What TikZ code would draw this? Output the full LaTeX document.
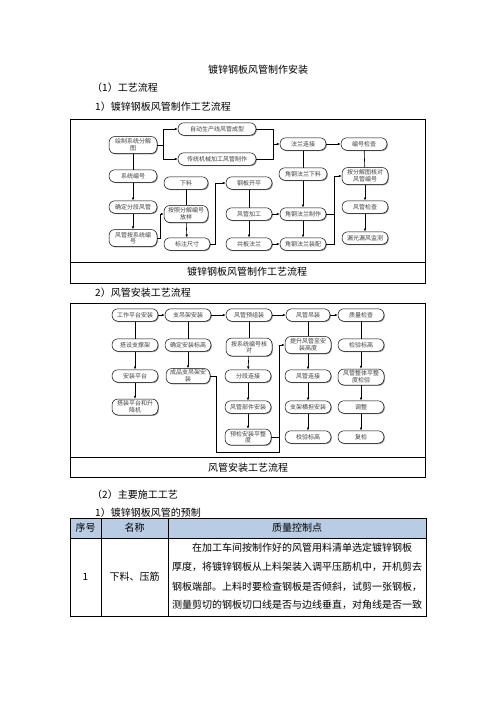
\documentclass[tikz,border=0pt]{standalone}
\usepackage{fontspec}
\setmainfont{Noto Sans CJK SC}
\usepackage{tikz}
\usetikzlibrary{positioning}
\usetikzlibrary{arrows.meta}
\usetikzlibrary{calc,shadows}

\begin{document}
\begin{tikzpicture}[x=1pt,y=-1pt,>={Latex[length=3pt,width=2.6pt]}]

	\tikzstyle{proc}=[rectangle,draw=black,line width=0.5pt,rounded corners=6pt,fill=white,
	drop shadow={shadow xshift=0.8pt,shadow yshift=-0.9pt,fill=black!40,opacity=1},
	minimum width=46pt,minimum height=12.5pt,inner sep=0.5pt,align=center,
	font=\fontsize{6}{6.6}\selectfont,text=black!75]
	\tikzstyle{wide proc}=[proc,minimum width=78pt]
	\tikzstyle{tall proc}=[proc,minimum height=17pt]
	\tikzstyle{link}=[line width=0.6pt,black]
	\tikzstyle{frame}=[line width=0.8pt,black]
	\tikzstyle{body}=[font=\fontsize{10}{12}\selectfont,inner sep=0pt]

	\useasboundingbox (0,0) rectangle (496,702);
	\fill[white] (0,0) rectangle (496,702);

	% headings
	\node[body] (title) at (258,70) {镀锌钢板风管制作安装};
	\node[body,anchor=west] (sec1) at (92,88) {（1）工艺流程};
	\node[body,anchor=west] (sub1) at (95,107) {1）镀锌钢板风管制作工艺流程};

	% ---------- chart 1 ----------
	\draw[frame] (70,119) rectangle (425,283);
	\draw[frame] (70,262) -- (425,262);
	\node[body] (cap1) at (247,272) {镀锌钢板风管制作工艺流程};

	\node[tall proc,minimum width=48pt] (huizhi) at (133,145) {绘制系统分解\\图};
	\node[wide proc] (zidong) at (217,129) {自动生产线风管成型};
	\node[wide proc] (chuantong) at (217,159) {传统机械加工风管制作};
	\node[proc] (falan) at (303,144) {法兰连接};
	\node[proc] (bianhao) at (364,144) {编号检查};
	\node[proc,minimum width=48pt] (xitong) at (133,176) {系统编号};
	\node[proc,minimum width=44pt] (xialiao) at (186,183) {下料};
	\node[proc] (kaiping) at (249,183) {钢板开平};
	\node[proc,minimum width=48pt] (jgxl) at (303,174) {角钢法兰下料};
	\node[tall proc] (hedui) at (365,176) {按分解图核对\\风管编号};
	\node[proc,minimum width=48pt] (queding) at (133,207) {确定分段风管};
	\node[tall proc,minimum width=44pt] (fangyang) at (186,214) {按照分解编号\\放样};
	\node[proc] (fgjg) at (249,214) {风管加工};
	\node[proc] (jgzz) at (303,214) {角钢法兰制作};
	\node[proc] (fgjc) at (365,207) {风管检查};
	\node[tall proc,minimum width=48pt] (anxt) at (133,238) {风管按系统编\\号};
	\node[proc] (biaozhu) at (187,244) {标注尺寸};
	\node[proc] (gongban) at (249,244) {共板法兰};
	\node[proc] (jgzp) at (303,244) {角钢法兰装配};
	\node[proc] (louguang) at (365,238) {漏光漏风监测};

	\coordinate (m1) at (273,144);
	\coordinate (m2) at (334,176);
	\draw[link,->] (huizhi.east) -- ++(6,0) |- (zidong.west);
	\draw[link,->] (huizhi.east) -- ++(6,0) |- (chuantong.west);
	\draw[link] (zidong.east) -| (m1);
	\draw[link] (chuantong.east) -| (m1);
	\draw[link,->] (m1) -- (falan.west);
	\draw[link,->] (falan) -- (bianhao);
	\draw[link] (falan) -- (jgxl);
	\draw[link] (bianhao) -- (hedui);
	\draw[link,->] (hedui) -- (fgjc);
	\draw[link,->] (fgjc) -- (louguang);
	\draw[link,->] (jgxl) -- (jgzz);
	\draw[link,->] (jgzz) -- (jgzp);
	\draw[link] (jgzp.east) -| (m2);
	\draw[link] (jgzz.east) -- (jgzz.east -| m2);
	\draw[link,->] (m2) -- (hedui.west);
	\draw[link] (huizhi) -- (xitong);
	\draw[link,->] (xitong) -- (queding);
	\draw[link,->] (queding) -- (anxt);
	\draw[link,->] (anxt.east) -- ++(3,0) |- (fangyang.west);
	\draw[link] (xialiao) -- (fangyang);
	\draw[link,->] (fangyang) -- (biaozhu);
	\draw[link,->] (biaozhu.east) -- ++(5,0) |- (kaiping.west);
	\draw[link] (kaiping) -- (fgjg);
	\draw[link,->] (fgjg) -- (gongban);
	\draw[link,->] (fgjg) -- (jgzz);
	\draw[link,->] (gongban) -- (jgzp);

	\node[body,anchor=west] (sub2) at (95,293) {2）风管安装工艺流程};

	% ---------- chart 2 ----------
	\draw[frame] (70,303) rectangle (425,477);
	\draw[frame] (70,457) -- (425,457);
	\node[body] (cap2) at (248,468) {风管安装工艺流程};

	\node[proc] (gzpt) at (135,315) {工作平台安装};
	\node[proc] (zdj) at (188,315) {支吊架安装};
	\node[proc] (yzz) at (249,315) {风管预组装};
	\node[proc,minimum width=44pt] (dz) at (308,315) {风管吊装};
	\node[proc] (zljc) at (361,315) {质量检查};
	\node[proc] (dszc) at (135,345) {搭设支撑架};
	\node[proc] (qdbg) at (188,345) {确定安装标高};
	\node[tall proc,minimum height=18pt] (hdbh) at (249,347) {按系统编号核\\对};
	\node[tall proc] (tsfg) at (308,345) {提升风管至安\\装高度};
	\node[proc] (jybg) at (361,345) {检验标高};
	\node[proc] (azpt) at (135,376) {安装平台};
	\node[tall proc,minimum width=44pt,minimum height=15pt] (cpzdj) at (188,376) {成品支吊架安\\装};
	\node[proc] (fdlj) at (248,376) {分段连接};
	\node[proc] (fglj) at (308,376) {风管连接};
	\node[tall proc,minimum height=16pt] (ztpz) at (361,377) {风管整体平整\\度检验};
	\node[tall proc,minimum height=16pt] (dzpt) at (135,407) {搭装平台和升\\降机};
	\node[proc] (bjaz) at (248,407) {风管部件安装};
	\node[proc] (zjhd) at (308,407) {支架横担安装};
	\node[proc] (tz) at (361,407) {调整};
	\node[tall proc,minimum height=16pt] (yjpz) at (248,437) {预检安装平整\\度};
	\node[proc] (jybg2) at (308,437) {校验标高};
	\node[proc] (fj) at (361,437) {复检};

	\coordinate (m3) at (279,452);
	\draw[link,->] (gzpt) -- (zdj);
	\draw[link,->] (zdj) -- (yzz);
	\draw[link,->] (yzz) -- (dz);
	\draw[link,->] (dz) -- (zljc);
	\draw[link] (gzpt) -- (dszc);
	\draw[link,->] (dszc) -- (azpt);
	\draw[link,->] (azpt) -- (dzpt);
	\draw[link] (zdj) -- (qdbg);
	\draw[link,->] (qdbg) -- (cpzdj);
	\draw[link] (yzz) -- (hdbh);
	\draw[link,->] (hdbh) -- (fdlj);
	\draw[link,->] (fdlj) -- (bjaz);
	\draw[link,->] (bjaz) -- (yjpz);
	\draw[link] (dz) -- (tsfg);
	\draw[link,->] (tsfg) -- (fglj);
	\draw[link,->] (fglj) -- (zjhd);
	\draw[link,->] (zjhd) -- (jybg2);
	\draw[link] (zljc) -- (jybg);
	\draw[link,->] (jybg) -- (ztpz);
	\draw[link,->] (ztpz) -- (tz);
	\draw[link,->] (tz) -- (fj);
	\draw[link,->] (cpzdj.east) -- ++(6,0) |- (m3) |- (tsfg.west);
	\draw[link] (yjpz.east) -- (yjpz.east -| m3);

	% ---------- table ----------
	\node[body,anchor=west] (sec2) at (92,495) {（2）主要施工工艺};
	\node[body,anchor=west] (sub3) at (95,513) {1）镀锌钢板风管的预制};

	\fill[fill={rgb,255:red,184;green,204;blue,228}] (70,518) rectangle (426,538);
	\draw[line width=1pt] (70,518) rectangle (426,616);
	\draw[line width=1pt] (70,538) -- (426,538);
	\draw[line width=1pt] (101,518) -- (101,616);
	\draw[line width=1pt] (168,518) -- (168,616);

	\node[body] (hno) at (85.5,528) {序号};
	\node[body] (hname) at (134.5,528) {名称};
	\node[body] (hpoint) at (297,528) {质量控制点};
	\node[body] (rno) at (85.5,577) {1};
	\node[body] (rname) at (134.5,577) {下料、压筋};
	\node[body,anchor=west] (l1) at (192,548) {在加工车间按制作好的风管用料清单选定镀锌钢板};
	\node[body,anchor=west] (l2) at (172,567) {厚度，将镀锌钢板从上料架装入调平压筋机中，开机剪去};
	\node[body,anchor=west] (l3) at (172,587) {钢板端部。上料时要检查钢板是否倾斜，试剪一张钢板，};
	\node[body,anchor=west] (l4) at (172,605) {测量剪切的钢板切口线是否与边线垂直，对角线是否一致};

\end{tikzpicture}
\end{document}
